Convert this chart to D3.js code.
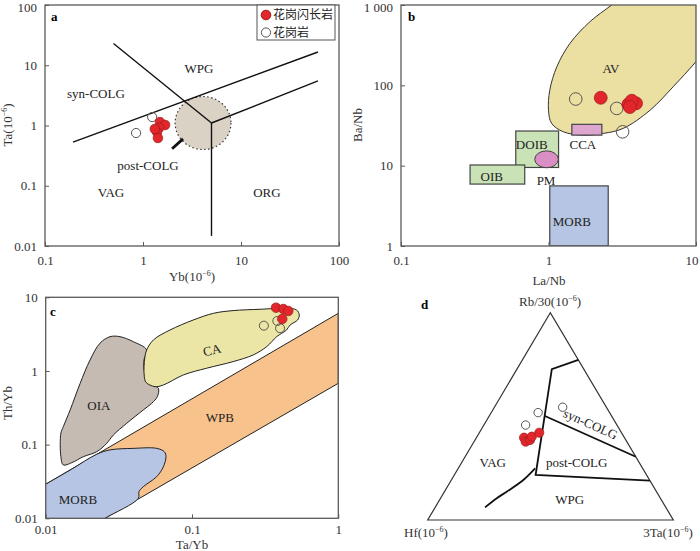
<!DOCTYPE html>
<html><head><meta charset="utf-8">
<script src="https://cdn.jsdelivr.net/npm/d3@7"></script>
<style>body{margin:0;background:#fff}</style>
</head><body><svg id="c" width="700" height="551"></svg>
<script>
// ---------- DATA ----------
// Panel a: Yb vs Ta
const aXTicks = [0.1, 1, 10, 100];
const aYTicks = [0.01, 0.1, 1, 10, 100];
const aGranodiorite = [[1.49,1.14],[1.68,1.02],[1.46,0.91],[1.39,0.78],[1.42,0.62],[1.32,0.875]];
const aGranite = [[0.85,0.75],[1.24,1.38]];
const aLines = [
  [[0.5,23],[5,1.1]],
  [[5,1.1],[5,0.0147]],
  [[5,1.1],[61,5.5]],
  [[0.193,0.53],[61,16.6]]
];
const aPostColgCircle = {cx:4.1, cy:1.1, rDecX:0.285, rDecY:0.44};
const aArrow = [[1.98,0.41],[2.56,0.6]];
const aLabels = [
  {t:"WPG", p:[3.73,9.0]}, {t:"syn-COLG", p:[0.331,3.46]}, {t:"post-COLG", p:[1.125,0.213]},
  {t:"VAG", p:[0.471,0.0759]}, {t:"ORG", p:[18.4,0.0759]}
];
// Panel b: La/Nb vs Ba/Nb
const bXTicks = [0.1, 1, 10];
const bYTicks = [1, 10, 100, 1000];
const bYTickLabels = ["1","10","100","1 000"];
const bGranodiorite = [[2.26,70],[3.48,58],[3.92,59.7],[3.67,64.3],[3.56,53.7]];
const bGranite = [[1.53,67.5],[2.9,51.6],[3.18,26.4]];
const bAV = [[3.7,1585],[2.68,1000],[1.91,620],[1.40,334],[1.14,171],[1.02,87],[1.0,49],[1.05,33.6],
  [1.26,26.4],[1.72,24],[2.35,25.2],[3.21,29.1],[4.88,49],[7.0,96],[10,197],[14,420],[16,1600]];
const bRects = [
  {name:"CCA", x0:1.44, x1:2.30, y0:24, y1:32.7, fill:"#dda6cf"},
  {name:"DOIB", x0:0.60, x1:1.17, y0:9.5, y1:27, fill:"#c9e3b6"},
  {name:"OIB", x0:0.294, x1:0.69, y0:5.9, y1:10.2, fill:"#c9e3b6"},
  {name:"MORB", x0:1.02, x1:2.54, y0:1, y1:5.6, fill:"#b5c5e3"}
];
const bPM = {cx:0.97, cy:12, rDecX:0.08, rDecY:0.105};
const bLabels = [
  {t:"AV", p:[2.65,164]}, {t:"CCA", p:[1.71,18.6]}, {t:"DOIB", p:[0.77,18.6]},
  {t:"OIB", p:[0.412,7.28]}, {t:"PM", p:[0.962,6.62]}, {t:"MORB", p:[1.44,2.0]}
];
// Panel c: Ta/Yb vs Th/Yb
const cXTicks = [0.01, 0.1, 1];
const cYTicks = [0.01, 0.1, 1, 10];
const cGranodiorite = [[0.375,7.22],[0.421,6.93],[0.455,6.52],[0.414,5.08]];
const cGranite = [[0.31,4.12],[0.383,4.77],[0.40,3.8]];
const cWPB = [[0.01,0.029],[1,6.06],[1,0.68],[0.0254,0.01],[0.01,0.01]];
const cMORB = [[0.007,0.0191],[0.01,0.029],[0.015,0.0463],[0.0223,0.074],[0.0275,0.0848],[0.0397,0.089],
  [0.0574,0.089],[0.0647,0.080],[0.0664,0.0687],[0.0637,0.050],[0.0574,0.0368],[0.0465,0.0269],
  [0.0434,0.0230],[0.043,0.0187],[0.0254,0.01],[0.02,0.0075],[0.007,0.007]];
const cOIA = [[0.0132,0.053],[0.0127,0.0687],[0.0127,0.1426],[0.0132,0.1755],[0.0147,0.296],[0.0172,0.68],
  [0.0201,1.41],[0.0235,2.38],[0.0275,2.92],[0.0322,2.92],[0.0397,2.5],[0.049,1.93],[0.047,1.41],
  [0.0477,0.93],[0.0545,0.645],[0.0589,0.582],[0.058,0.449],[0.053,0.364],[0.0465,0.296],
  [0.0358,0.195],[0.029,0.135],[0.0261,0.104],[0.0223,0.080],[0.0181,0.0687],[0.0151,0.057]];
const cCA = [[0.049,1.93],[0.0545,2.64],[0.0708,3.6],[0.102,4.92],[0.140,6.06],[0.191,6.6],[0.292,6.88],
  [0.443,7.09],[0.519,6.73],[0.541,5.75],[0.527,4.92],[0.468,4.2],[0.443,3.6],[0.410,3.24],[0.379,2.92],
  [0.324,2.14],[0.262,1.65],[0.191,1.34],[0.126,1.09],[0.0873,0.883],[0.0637,0.645],[0.0559,0.612],
  [0.0485,0.70],[0.0472,0.838],[0.047,1.146],[0.0477,1.57]];
const cLabels = [
  {t:"CA", p:[0.137,1.93], rot:-14}, {t:"OIA", p:[0.0231,0.335]},
  {t:"WPB", p:[0.155,0.236]}, {t:"MORB", p:[0.0166,0.0178]}
];
// Panel d: ternary Rb/30 (top) - Hf (left) - 3Ta (right)
const dGranodiorite = [[0.397,0.409,0.194],[0.378,0.412,0.210],[0.386,0.390,0.224],[0.402,0.375,0.223],[0.421,0.335,0.244]];
const dGranite = [[0.458,0.372,0.170],[0.518,0.291,0.191],[0.544,0.178,0.278]];
const dLines = [
  {pts:[[0.772,0,0.228],[0.728,0.130,0.142],[0.217,0.452,0.331],[0.190,0,0.810]], curve:false},
  {pts:[[0.503,0.273,0.224],[0.305,0,0.695]], curve:false},
  {pts:[[0.249,0.438,0.313],[0.193,0.514,0.293],[0.1365,0.61,0.2535],[0.105,0.666,0.229],[0.061,0.736,0.203]], curve:true}
];
const dLabels = [
  {t:"syn-COLG", p:[0.463,0.105,0.432], rot:24}, {t:"post-COLG", p:[0.276,0.255,0.469]},
  {t:"VAG", p:[0.276,0.597,0.127]}, {t:"WPG", p:[0.0965,0.372,0.531]}
];
const legendItems = [{t:"花岗闪长岩", filled:true},{t:"花岗岩", filled:false}];

// ---------- STYLE ----------
const FONT = "'Liberation Serif','Times New Roman',serif";
const CJK = "'Liberation Serif','Noto Sans CJK SC',serif";
const RED = "#e3262b", REDSTROKE = "#9a1c1c", AXIS = "#5a5a5a";
const svg = d3.select("#c");

function titleWithSup(g, x, y, pre, sup, post, rot){
  const t = g.append("text").attr("font-family",FONT).attr("font-size",13).attr("fill","#333")
    .attr("text-anchor","middle")
    .attr("transform",`translate(${x},${y})` + (rot?` rotate(${rot})`:""));
  t.append("tspan").text(pre);
  if(sup){
    t.append("tspan").attr("font-size",8).attr("dy",-5).text(sup);
    t.append("tspan").attr("dy",5).text(post);
  }
  return t;
}

function logPanel(id, xd, xr, yd, yr, xTicks, yTicks, yLabels, xPad){
  const g = svg.append("g");
  const x = d3.scaleLog().domain(xd).range(xr);
  const y = d3.scaleLog().domain(yd).range(yr);
  g.append("clipPath").attr("id",id).append("rect")
    .attr("x",xr[0]).attr("y",yr[1]).attr("width",xr[1]-xr[0]).attr("height",yr[0]-yr[1]);
  const plot = g.append("g").attr("clip-path",`url(#${id})`);
  return {g, x, y, plot, draw(){
    g.append("rect").attr("x",xr[0]).attr("y",yr[1]).attr("width",xr[1]-xr[0]).attr("height",yr[0]-yr[1])
      .attr("fill","none").attr("stroke",AXIS).attr("stroke-width",1.3);
    const ax = g.append("g").attr("transform",`translate(0,${yr[0]})`)
      .call(d3.axisBottom(x).tickValues(xTicks).tickSize(-4).tickPadding(xPad||10).tickFormat(d=>String(d)));
    const ay = g.append("g").attr("transform",`translate(${xr[0]},0)`)
      .call(d3.axisLeft(y).tickValues(yTicks).tickSize(-4).tickPadding(8)
        .tickFormat((d,i)=> yLabels ? yLabels[i] : String(d)));
    [ax,ay].forEach(a=>{
      a.select(".domain").remove();
      a.selectAll("line").attr("stroke",AXIS);
      a.selectAll("text").attr("font-family",FONT).attr("font-size",13).attr("fill","#333");
    });
    // keep edge labels inside the window
    ax.selectAll(".tick text").filter((d,i,n)=> i===n.length-1 && xr[1]>690).attr("text-anchor","end").attr("x",2);
    ay.selectAll(".tick text").filter((d,i,n)=> i===n.length-1 && yr[1]<8).attr("y",2);
  }};
}

function markers(sel, pts, fx, fy, r, filled){
  sel.selectAll(null).data(pts).enter().append("circle")
    .attr("cx",d=>fx(d)).attr("cy",d=>fy(d)).attr("r",r)
    .attr("fill", filled ? RED : "none")
    .attr("stroke", filled ? REDSTROKE : "#555").attr("stroke-width", filled?0.7:1);
}

function labels(sel, arr, fx, fy){
  arr.forEach(l=>{
    const px = fx(l.p), py = fy(l.p);
    sel.append("text").attr("font-family",FONT).attr("font-size",13).attr("fill","#222")
      .attr("text-anchor","middle").attr("dominant-baseline","central")
      .attr("transform",`translate(${px},${py})`+(l.rot?` rotate(${l.rot})`:""))
      .text(l.t);
  });
}

// ---------- PANEL A ----------
{
  const P = logPanel("clipA",[0.1,100],[45,339],[0.01,100],[246,5],aXTicks,aYTicks);
  const {x,y,plot,g} = P;
  const c = aPostColgCircle;
  const rx = x(c.cx*Math.pow(10,c.rDecX)) - x(c.cx);
  const ry = y(c.cy) - y(c.cy*Math.pow(10,c.rDecY));
  plot.append("ellipse").attr("cx",x(c.cx)).attr("cy",y(c.cy)).attr("rx",rx).attr("ry",ry)
    .attr("fill","#dbd2c6").attr("stroke","#333").attr("stroke-width",1.2).attr("stroke-dasharray","1.5,2.5");
  const line = d3.line().x(d=>x(d[0])).y(d=>y(d[1]));
  aLines.forEach(l=>plot.append("path").attr("d",line(l)).attr("fill","none").attr("stroke","#111").attr("stroke-width",1.4));
  plot.append("path").attr("d",line(aArrow)).attr("stroke","#111").attr("stroke-width",2.8).attr("fill","none");
  labels(plot, aLabels, d=>x(d[0]), d=>y(d[1]));
  markers(plot, aGranite, d=>x(d[0]), d=>y(d[1]), 4.6, false);
  markers(plot, aGranodiorite, d=>x(d[0]), d=>y(d[1]), 4.8, true);
  P.draw();
  g.append("text").attr("x",51).attr("y",21).attr("font-family",FONT).attr("font-size",13).attr("font-weight","bold").text("a");
  titleWithSup(g, 192, 281, "Yb(10", "−6", ")");
  titleWithSup(g, 12, 125, "Ta(10", "−6", ")", -90);
  // legend
  const lg = g.append("g");
  lg.append("rect").attr("x",257).attr("y",5).attr("width",78).attr("height",35)
    .attr("fill","#fff").attr("stroke","#555").attr("stroke-width",1);
  legendItems.forEach((it,i)=>{
    const cy = 15 + i*17.5;
    lg.append("circle").attr("cx",266).attr("cy",cy).attr("r",it.filled?4.8:4.6)
      .attr("fill",it.filled?RED:"none").attr("stroke",it.filled?REDSTROKE:"#555");
    lg.append("text").attr("x",273).attr("y",cy).attr("dominant-baseline","central")
      .attr("font-family",CJK).attr("font-size",12).attr("fill","#222").text(it.t);
  });
}

// ---------- PANEL B ----------
{
  const P = logPanel("clipB",[0.1,10],[401,696],[1,1000],[246,5],bXTicks,bYTicks,bYTickLabels);
  const {x,y,plot,g} = P;
  const area = d3.line().x(d=>x(d[0])).y(d=>y(d[1])).curve(d3.curveCatmullRomClosed.alpha(0.5));
  plot.append("path").attr("d",area(bAV)).attr("fill","#ebe0a2").attr("stroke","#333").attr("stroke-width",1);
  bRects.forEach(r=>{
    plot.append("rect").attr("x",x(r.x0)).attr("y",y(r.y1)).attr("width",x(r.x1)-x(r.x0)).attr("height",y(r.y0)-y(r.y1))
      .attr("fill",r.fill).attr("stroke","#444").attr("stroke-width",1.2);
  });
  const e = bPM;
  plot.append("ellipse").attr("cx",x(e.cx)).attr("cy",y(e.cy))
    .attr("rx",x(e.cx*Math.pow(10,e.rDecX))-x(e.cx)).attr("ry",y(e.cy)-y(e.cy*Math.pow(10,e.rDecY)))
    .attr("fill","#d98fc4").attr("stroke","#444").attr("stroke-width",1);
  labels(plot, bLabels, d=>x(d[0]), d=>y(d[1]));
  markers(plot, bGranite, d=>x(d[0]), d=>y(d[1]), 6.3, false);
  markers(plot, bGranodiorite, d=>x(d[0]), d=>y(d[1]), 6.5, true);
  P.draw();
  g.append("text").attr("x",408).attr("y",21).attr("font-family",FONT).attr("font-size",13).attr("font-weight","bold").text("b");
  titleWithSup(g, 549, 285, "La/Nb");
  titleWithSup(g, 362, 125, "Ba/Nb", null, null, -90);
}

// ---------- PANEL C ----------
{
  const P = logPanel("clipC",[0.01,1],[45.7,338.3],[0.01,10],[518.3,297.3],cXTicks,cYTicks,null,6);
  const {x,y,plot,g} = P;
  const poly = d3.line().x(d=>x(d[0])).y(d=>y(d[1])).curve(d3.curveLinearClosed);
  const smooth = d3.line().x(d=>x(d[0])).y(d=>y(d[1])).curve(d3.curveCatmullRomClosed.alpha(0.5));
  plot.append("path").attr("d",poly(cWPB)).attr("fill","#f8c28d").attr("stroke","#222").attr("stroke-width",1);
  plot.append("path").attr("d",smooth(cMORB)).attr("fill","#b5c5e3").attr("stroke","#222").attr("stroke-width",1);
  plot.append("path").attr("d",smooth(cOIA)).attr("fill","#c5bbb3").attr("stroke","#222").attr("stroke-width",1);
  plot.append("path").attr("d",smooth(cCA)).attr("fill","#ebe6a6").attr("stroke","#222").attr("stroke-width",1);
  labels(plot, cLabels, d=>x(d[0]), d=>y(d[1]));
  markers(plot, cGranite, d=>x(d[0]), d=>y(d[1]), 4.5, false);
  markers(plot, cGranodiorite, d=>x(d[0]), d=>y(d[1]), 4.8, true);
  P.draw();
  g.append("text").attr("x",50).attr("y",316).attr("font-family",FONT).attr("font-size",13).attr("font-weight","bold").text("c");
  titleWithSup(g, 192, 549, "Ta/Yb");
  titleWithSup(g, 12, 403, "Th/Yb", null, null, -90);
}

// ---------- PANEL D ----------
{
  const g = svg.append("g");
  const T = [550.3,312.7], L = [427.7,520], R = [673.3,520];
  const tx = p => p[0]*T[0]+p[1]*L[0]+p[2]*R[0];
  const ty = p => p[0]*T[1]+p[1]*L[1]+p[2]*R[1];
  const tri = [[1,0,0],[0,1,0],[0,0,1]];
  g.append("path").attr("d",d3.line().x(tx).y(ty).curve(d3.curveLinearClosed)(tri))
    .attr("fill","none").attr("stroke","#333").attr("stroke-width",1.2);
  dLines.forEach(l=>{
    const ln = d3.line().x(tx).y(ty).curve(l.curve?d3.curveCatmullRom:d3.curveLinear);
    g.append("path").attr("d",ln(l.pts)).attr("fill","none").attr("stroke","#111").attr("stroke-width",1.8);
  });
  labels(g, dLabels, tx, ty);
  markers(g, dGranite, tx, ty, 4.2, false);
  markers(g, dGranodiorite, tx, ty, 4.6, true);
  g.append("text").attr("x",421).attr("y",309).attr("font-family",FONT).attr("font-size",13).attr("font-weight","bold").text("d");
  titleWithSup(g, 550, 306, "Rb/30(10", "−6", ")");
  titleWithSup(g, 426, 537, "Hf(10", "−6", ")");
  titleWithSup(g, 668, 537, "3Ta(10", "−6", ")");
}
</script></body></html>
